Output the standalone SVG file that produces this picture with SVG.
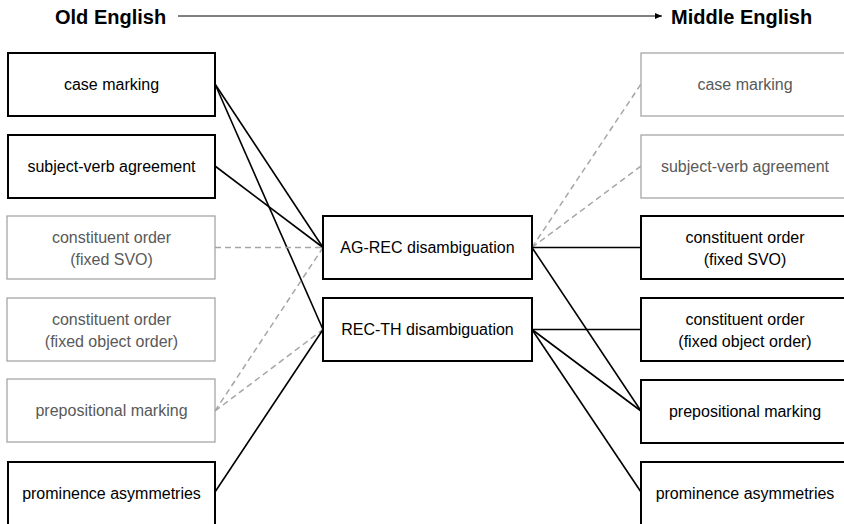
<svg xmlns="http://www.w3.org/2000/svg" width="844" height="524" viewBox="0 0 844 524">
<style>
.b{fill:#fff;stroke:#000;stroke-width:2}
.g{fill:#fff;stroke:#a6a6a6;stroke-width:1.3}
.t{font-family:"Liberation Sans",Arial,sans-serif;font-size:16px;text-anchor:middle;fill:#000}
.tg{font-family:"Liberation Sans",Arial,sans-serif;font-size:16px;text-anchor:middle;fill:#595959}
.h{font-family:"Liberation Sans",Arial,sans-serif;font-size:20px;font-weight:bold;fill:#000}
.s{stroke:#000;stroke-width:1.6;fill:none}
.d{stroke:#a6a6a6;stroke-width:1.5;stroke-dasharray:6 4;fill:none}
</style>
<defs>
<marker id="ah" markerWidth="8" markerHeight="8" refX="7" refY="4" orient="auto" markerUnits="userSpaceOnUse">
<path d="M0,1 L7,4 L0,7 Z" fill="#000"/>
</marker>
</defs>
<g id="header">
<text class="h" x="55" y="24">Old English</text>
<text class="h" x="671" y="24">Middle English</text>
<line x1="178" y1="16" x2="662" y2="16" stroke="#000" stroke-width="1" marker-end="url(#ah)"/>
</g>
<g id="connectors">
<line class="s" x1="215" y1="84" x2="323" y2="247.5"/>
<line class="s" x1="215" y1="84" x2="323" y2="329.5"/>
<line class="s" x1="215" y1="166" x2="323" y2="247.5"/>
<line class="d" x1="215" y1="247.5" x2="323" y2="247.5"/>
<line class="d" x1="215" y1="411" x2="323" y2="247.5"/>
<line class="d" x1="215" y1="411" x2="323" y2="329.5"/>
<line class="s" x1="215" y1="492" x2="323" y2="329.5"/>
<line class="d" x1="532" y1="247.5" x2="641" y2="84"/>
<line class="d" x1="532" y1="247.5" x2="641" y2="166"/>
<line class="s" x1="532" y1="247.5" x2="641" y2="247.5"/>
<line class="s" x1="532" y1="247.5" x2="641" y2="411"/>
<line class="s" x1="532" y1="329.5" x2="641" y2="329.5"/>
<line class="s" x1="532" y1="329.5" x2="641" y2="411"/>
<line class="s" x1="532" y1="329.5" x2="641" y2="492"/>
</g>
<g id="l1"><rect class="b" x="8" y="53" width="207" height="63"/><text class="t" x="111.5" y="90">case marking</text></g>
<g id="l2"><rect class="b" x="8" y="135" width="207" height="63"/><text class="t" x="111.5" y="172">subject-verb agreement</text></g>
<g id="l3"><rect class="g" x="7" y="216" width="208" height="63"/><text class="tg" x="111.5" y="243">constituent order</text><text class="tg" x="111.5" y="265">(fixed SVO)</text></g>
<g id="l4"><rect class="g" x="7" y="298" width="208" height="63"/><text class="tg" x="111.5" y="325">constituent order</text><text class="tg" x="111.5" y="347">(fixed object order)</text></g>
<g id="l5"><rect class="g" x="7" y="379" width="208" height="63"/><text class="tg" x="111.5" y="416">prepositional marking</text></g>
<g id="l6"><rect class="b" x="8" y="462" width="207" height="63"/><text class="t" x="111.5" y="499">prominence asymmetries</text></g>
<g id="m1"><rect class="b" x="323" y="216" width="209" height="63"/><text class="t" x="427.5" y="253">AG-REC disambiguation</text></g>
<g id="m2"><rect class="b" x="323" y="298" width="209" height="63"/><text class="t" x="427.5" y="335">REC-TH disambiguation</text></g>
<g id="r1"><rect class="g" x="641" y="53" width="210" height="63"/><text class="tg" x="745" y="90">case marking</text></g>
<g id="r2"><rect class="g" x="641" y="135" width="210" height="63"/><text class="tg" x="745" y="172">subject-verb agreement</text></g>
<g id="r3"><rect class="b" x="641" y="216" width="210" height="63"/><text class="t" x="745" y="243">constituent order</text><text class="t" x="745" y="265">(fixed SVO)</text></g>
<g id="r4"><rect class="b" x="641" y="298" width="210" height="63"/><text class="t" x="745" y="325">constituent order</text><text class="t" x="745" y="347">(fixed object order)</text></g>
<g id="r5"><rect class="b" x="641" y="380" width="210" height="63"/><text class="t" x="745" y="417">prepositional marking</text></g>
<g id="r6"><rect class="b" x="641" y="462" width="210" height="63"/><text class="t" x="745" y="499">prominence asymmetries</text></g>
</svg>
